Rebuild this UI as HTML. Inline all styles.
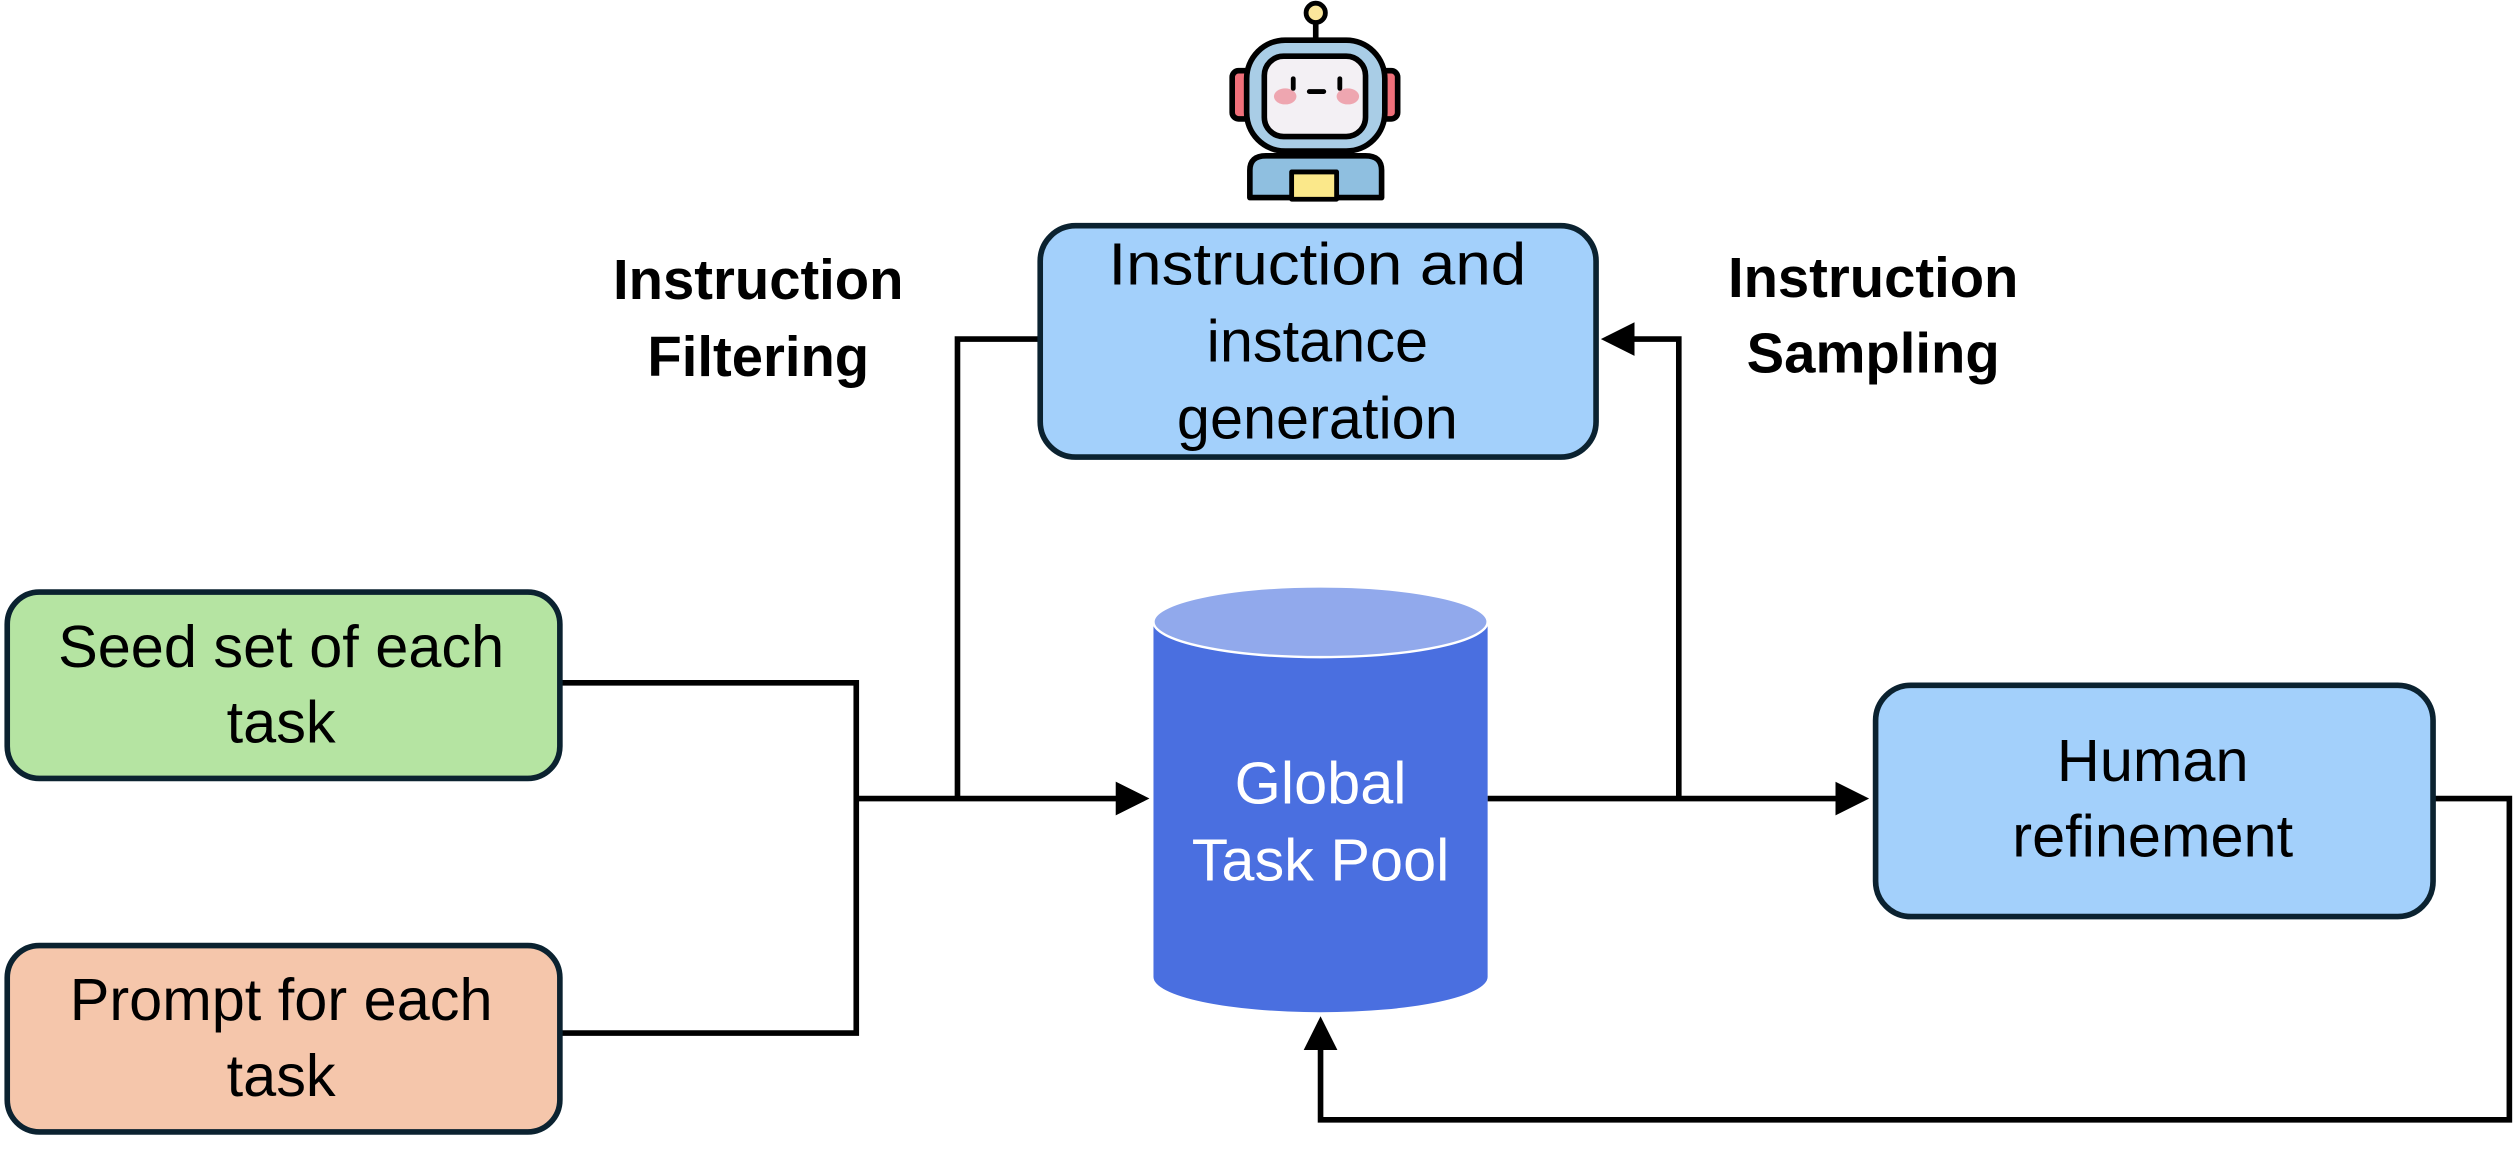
<!DOCTYPE html>
<html><head><meta charset="utf-8"><style>
html,body{margin:0;padding:0;background:#fff;}
svg{display:block;}
text{font-family:"Liberation Sans",sans-serif;}
</style></head><body>
<svg width="2519" height="1152" viewBox="0 0 1568 717" preserveAspectRatio="none" xmlns="http://www.w3.org/2000/svg">
<defs>
<marker id="ah" markerWidth="6" markerHeight="6" refX="5" refY="3" orient="auto" markerUnits="strokeWidth">
<path d="M0,0 L6,3 L0,6 z" fill="#000"/></marker>
</defs>
<rect width="1568" height="717" fill="#fff"/>

<g fill="none" stroke="#000" stroke-width="3.5">
<polyline points="349,425 533,425 533,643 349,643"/>
<line x1="533" y1="497" x2="712" y2="497" marker-end="url(#ah)"/>
<polyline points="646,211 596,211 596,497"/>
<line x1="926" y1="497" x2="1160" y2="497" marker-end="url(#ah)"/>
<polyline points="1045,497 1045,211 1000,211" marker-end="url(#ah)"/>
<polyline points="1515,497 1562,497 1562,697 822,697 822,636" marker-end="url(#ah)"/>
</g>

<rect x="4.5" y="368.5" width="344" height="116" rx="20" fill="#b5e4a2" stroke="#0b2230" stroke-width="3.5"/>
<rect x="4.5" y="588.5" width="344" height="116" rx="20" fill="#f5c6ab" stroke="#0b2230" stroke-width="3.5"/>
<rect x="647.5" y="140.5" width="346" height="144" rx="22" fill="#a3d0fb" stroke="#0b2230" stroke-width="3.5"/>
<rect x="1167.5" y="426.5" width="347" height="144" rx="22" fill="#a3d0fb" stroke="#0b2230" stroke-width="3.5"/>

<path d="M718,387 L718,608 A104,22 0 0 0 926,608 L926,387 Z" fill="#4a6fe0"/>
<ellipse cx="822" cy="387" rx="104" ry="22" fill="#91a9ec" stroke="#fff" stroke-width="1.5"/>

<g font-size="37" fill="#000" text-anchor="middle">
<text x="175" y="415">Seed set of each</text>
<text x="175" y="462">task</text>
<text x="175" y="635">Prompt for each</text>
<text x="175" y="682">task</text>
<text x="820" y="177" textLength="260" lengthAdjust="spacingAndGlyphs">Instruction and</text>
<text x="820" y="225">instance</text>
<text x="820" y="273">generation</text>
<text x="1340" y="486">Human</text>
<text x="1340" y="533">refinement</text>
<text x="822" y="500" fill="#fff">Global</text>
<text x="822" y="548" fill="#fff">Task Pool</text>
</g>
<g font-size="35" font-weight="bold" fill="#000" text-anchor="middle">
<text x="472" y="186">Instruction</text>
<text x="472" y="234">Filtering</text>
<text x="1166" y="185">Instruction</text>
<text x="1166" y="232">Sampling</text>
</g>

<g stroke="#000" stroke-width="3.5" stroke-linejoin="round">
<line x1="819" y1="14" x2="819" y2="27"/>
<circle cx="819" cy="8" r="6" fill="#fbe79c" stroke-width="3"/>
<rect x="767" y="44" width="12" height="30" rx="4" fill="#f0707a"/>
<rect x="858" y="44" width="12" height="30" rx="4" fill="#f0707a"/>
<rect x="807" y="90" width="24" height="12" fill="#7fb1d6"/>
<path d="M778,123 L778,106 Q778,97 788,97 L850,97 Q860,97 860,106 L860,123 Z" fill="#8fbfe0"/>
<rect x="804" y="107" width="28" height="17" fill="#fbe88a" stroke-width="3"/>
<rect x="776" y="25" width="86" height="69" rx="24" fill="#a9cde6"/>
<rect x="787" y="35" width="63" height="50" rx="12" fill="#f3f0f4"/>
</g>
<ellipse cx="800" cy="60" rx="7" ry="5" fill="#eea6b0"/>
<ellipse cx="839" cy="60" rx="7" ry="5" fill="#eea6b0"/>
<line x1="805" y1="49" x2="805" y2="55" stroke="#000" stroke-width="3" stroke-linecap="round"/>
<line x1="834" y1="49" x2="834" y2="55" stroke="#000" stroke-width="3" stroke-linecap="round"/>
<line x1="815" y1="57" x2="824" y2="57" stroke="#000" stroke-width="3" stroke-linecap="round"/>
</svg>
</body></html>
